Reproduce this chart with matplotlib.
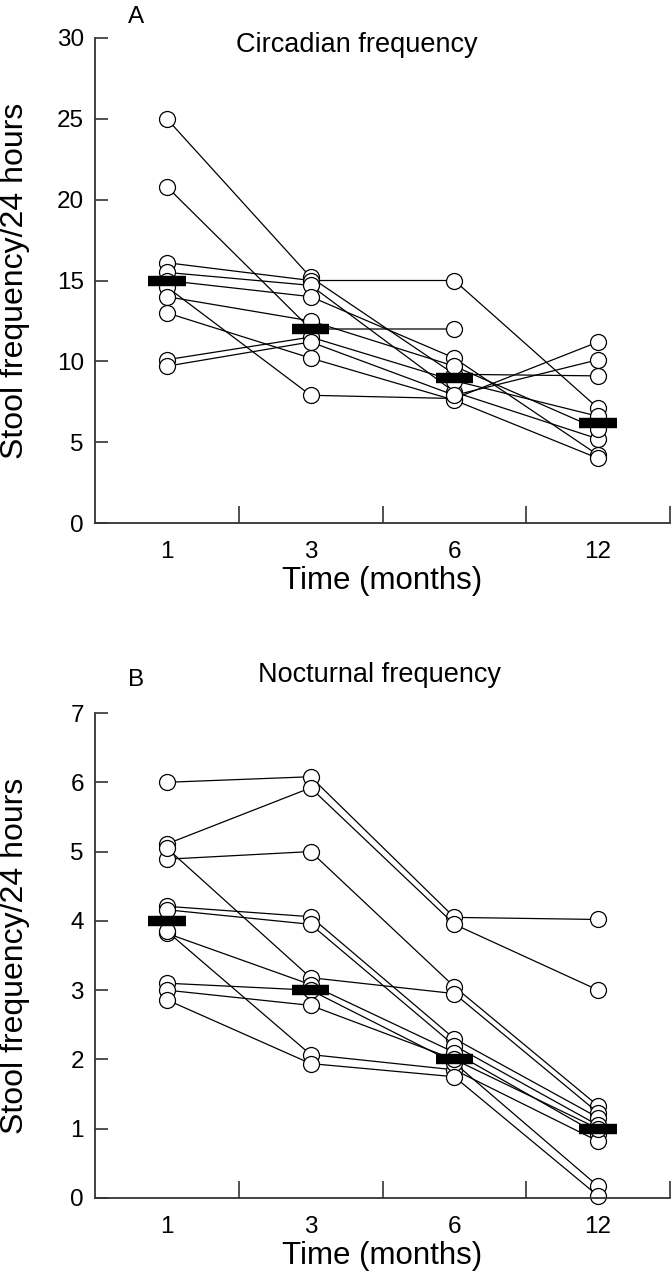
import numpy as np
import matplotlib
matplotlib.use("Agg")
import matplotlib.pyplot as plt

plt.rcParams['font.family'] = ['Liberation Sans', 'DejaVu Sans']

months = ["1", "3", "6", "12"]

# Panel A: circadian stool frequency per subject at 1, 3, 6, 12 months
circ_s1 = [25.0, 15.2, 9.2, 9.1]
circ_s2 = [20.8, 12.0, 12.0, np.nan]
circ_s3 = [16.1, 15.0, 15.0, 7.1]
circ_s4 = [15.5, 14.7, 8.1, 5.2]
circ_s5 = [15.0, 14.0, 10.2, 4.2]
circ_s6 = [14.6, 7.9, 7.7, 11.2]
circ_s7 = [14.0, 12.5, 9.7, 5.8]
circ_s8 = [13.0, 10.2, 7.6, 4.0]
circ_s9 = [10.1, 11.5, 8.8, 6.6]
circ_s10 = [9.7, 11.2, 7.9, 10.1]
circ_median = [15.0, 12.0, 9.0, 6.2]

# Panel B: nocturnal stool frequency per subject
noct_s1 = [6.0, 6.08, 4.05, 4.02]
noct_s2 = [5.11, 5.92, 3.95, 3.0]
noct_s3 = [4.89, 5.0, 3.05, 1.33]
noct_s4 = [5.05, 3.18, 2.95, 1.23]
noct_s5 = [4.21, 4.06, 2.3, 1.16]
noct_s6 = [4.16, 3.95, 2.2, 1.05]
noct_s7 = [3.82, 3.08, 2.1, 0.92]
noct_s8 = [3.85, 2.07, 1.85, 0.82]
noct_s9 = [3.1, 3.0, 1.95, 0.17]
noct_s10 = [3.0, 2.78, 2.0, 1.0]
noct_s11 = [2.86, 1.94, 1.75, 0.03]
noct_median = [4.0, 3.0, 2.0, 1.0]

circ = [circ_s1, circ_s2, circ_s3, circ_s4, circ_s5, circ_s6, circ_s7, circ_s8, circ_s9, circ_s10]
noct = [noct_s1, noct_s2, noct_s3, noct_s4, noct_s5, noct_s6, noct_s7, noct_s8, noct_s9, noct_s10, noct_s11]

W, H = 671, 1280
fig = plt.figure(figsize=(W / 100, H / 100), dpi=100)

def px_axes(left, top, right, bottom):
    return fig.add_axes([left / W, 1 - bottom / H, (right - left) / W, (bottom - top) / H])

spine_col = '#333333'

def setup(ax, subjects, med, ymax, ystep):
    x = np.arange(len(months))
    for s in subjects:
        ax.plot(x, s, color='black', lw=0.9, marker='o', ms=11.5, mfc='white',
                mec='black', mew=0.9, zorder=2, clip_on=False)
    ax.hlines(med, x - 0.13, x + 0.13, colors='black', lw=7.5, zorder=3)
    ax.set_xlim(-0.5, len(months) - 0.5)
    ax.set_ylim(0, ymax)
    ax.set_yticks(np.arange(0, ymax + 0.01, ystep))
    ax.set_xticks(x)
    ax.set_xticklabels(months)
    ax.set_xticks(np.arange(0.5, len(months), 1.0), minor=True)
    ax.tick_params(axis='x', which='major', length=0, pad=13, labelsize=17.5)
    ax.tick_params(axis='x', which='minor', direction='in', length=12, width=1.2, color=spine_col)
    ax.tick_params(axis='y', direction='in', length=9, width=1.2, color=spine_col, pad=8, labelsize=17.5)
    for sp in ['top', 'right']:
        ax.spines[sp].set_visible(False)
    for sp in ['left', 'bottom']:
        ax.spines[sp].set_linewidth(1.3)
        ax.spines[sp].set_color(spine_col)
    ax.set_xlabel('Time (months)', fontsize=22.5, labelpad=2)
    ax.set_ylabel('Stool frequency/24 hours', fontsize=23)

axA = px_axes(95, 38, 670, 523)
setup(axA, circ, circ_median, 30, 5)
fig.text(128 / W, 1 - 17 / H, 'A', fontsize=17.5, ha='left', va='center')
fig.text(357 / W, 1 - 45 / H, 'Circadian frequency', fontsize=19.5, ha='center', va='center')

axB = px_axes(95, 713, 670, 1198)
setup(axB, noct, noct_median, 7, 1)
fig.text(128 / W, 1 - 680 / H, 'B', fontsize=17.5, ha='left', va='center')
fig.text(380 / W, 1 - 675 / H, 'Nocturnal frequency', fontsize=19.5, ha='center', va='center')

for ax in (axA, axB):
    ax.yaxis.set_label_coords(-65 / 575, 0.5)

fig.savefig('out.png', dpi=100)
